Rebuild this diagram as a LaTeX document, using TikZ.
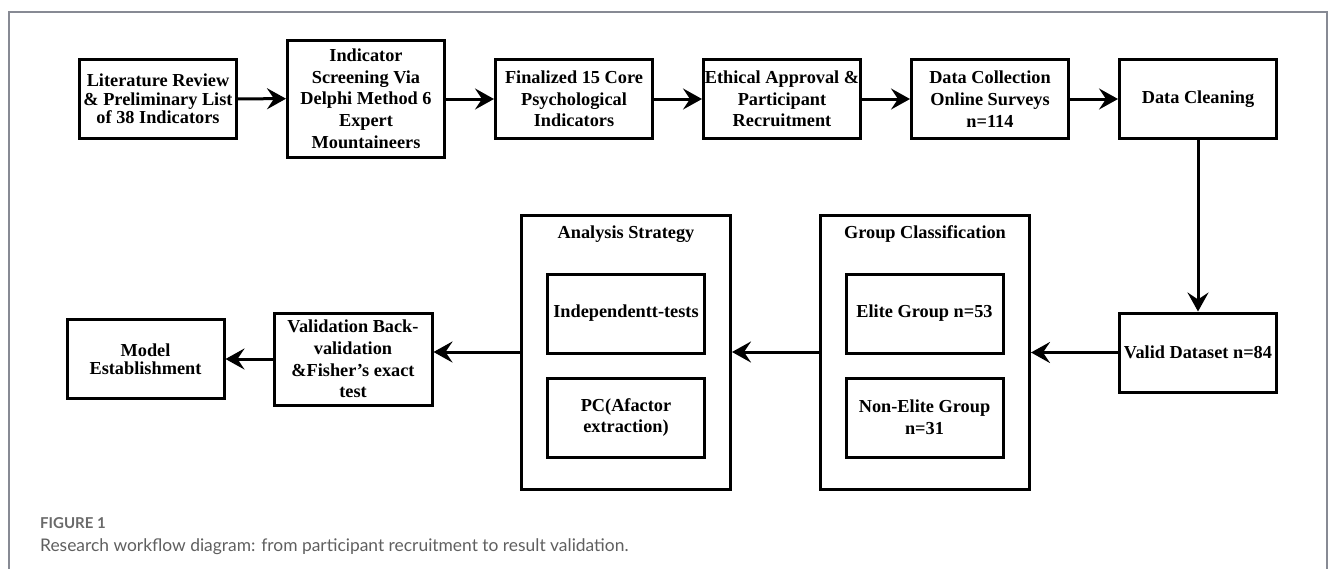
\documentclass[tikz,border=0pt]{standalone}
\usepackage{fontspec}
\setmainfont{Liberation Serif}
\newfontfamily\capfont{Lato}
\usetikzlibrary{arrows.meta}
\definecolor{framegray}{RGB}{135,138,148}
\definecolor{capgray}{RGB}{95,95,95}
\definecolor{figgray}{RGB}{105,105,105}
\begin{document}
\begin{tikzpicture}[x=1pt,y=-1pt,
  box/.style={draw, line width=3pt, align=center, inner sep=0pt,
    font=\bfseries\fontsize{18.3}{21.7}\selectfont,
    minimum width=157pt, minimum height=79pt},
  tight/.style={font=\bfseries\fontsize{18.3}{18.3}\selectfont},
  group/.style={draw, line width=3pt, inner sep=0pt, minimum width=209pt, minimum height=274pt},
  gtitle/.style={font=\bfseries\fontsize{18.3}{21.7}\selectfont, inner sep=0pt},
  arr/.style={line width=3pt, -{Stealth[length=19pt,width=21pt,inset=7pt]}}
]
\useasboundingbox (0,0) rectangle (1333,568);
\draw[framegray, line width=1.2pt] (9,570) -- (9,12) -- (1327,12) -- (1327,570);

% top row
\node[box, tight] (b1) at (158,99) {Literature Review\\\& Preliminary List\\of 38 Indicators};
\node[box, minimum height=117pt] (b2) at (366,98.5) {Indicator\\Screening Via\\Delphi Method 6\\Expert\\Mountaineers};
\node[box] (b3) at (574,99) {Finalized 15 Core\\Psychological\\Indicators};
\node[box] (b4) at (782,99) {Ethical Approval \&\\Participant\\Recruitment};
\node[box] (b5) at (990,99) {Data Collection\\Online Surveys\\n=114};
\node[box] (b6) at (1198,99) {Data Cleaning};

% bottom row
\node[box] (v) at (1198,352.5) {Valid Dataset n=84};

\node[group] (gc) at (925,352) {};
\node[gtitle] (gct) at (925,234) {Group Classification};
\node[box] (elite) at (924.5,313.5) {Elite Group n=53};
\node[box] (non) at (924.5,417.5) {Non-Elite Group\\n=31};

\node[group] (as) at (626,352) {};
\node[gtitle] (ast) at (626,234) {Analysis Strategy};
\node[box] (indep) at (626,313.5) {Independentt-tests};
\node[box] (pc) at (626,417.5) {PC(Afactor\\extraction)};

\node[box, minimum width=158pt, minimum height=92pt] (val) at (353,359) {Validation Back-\\validation\\\&Fisher's exact\\test};
\node[box, tight] (model) at (145.5,359) {Model\\Establishment};

% connectors
\draw[arr] (b1) -- (b2);
\draw[arr] (b2.east |- b3.west) -- (b3);
\draw[arr] (b3) -- (b4);
\draw[arr] (b4) -- (b5);
\draw[arr] (b5) -- (b6);
\draw[arr] (b6) -- (v);
\draw[arr] (v) -- (gc.east |- v.west);
\draw[arr] (gc) -- (as);
\draw[arr] (as.west) -- (as.west -| val.east);
\draw[arr] (val) -- (model);

% caption
\node[font=\capfont\bfseries\fontsize{15}{17}\selectfont, text=figgray, anchor=west, inner sep=0pt] (fig) at (40,523) {FIGURE 1};
\node[font=\capfont\fontsize{17.4}{20}\selectfont, text=capgray, anchor=west, inner sep=0pt] (cap) at (40,547) {Research workflow diagram: from participant recruitment to result validation.};
\end{tikzpicture}
\end{document}
